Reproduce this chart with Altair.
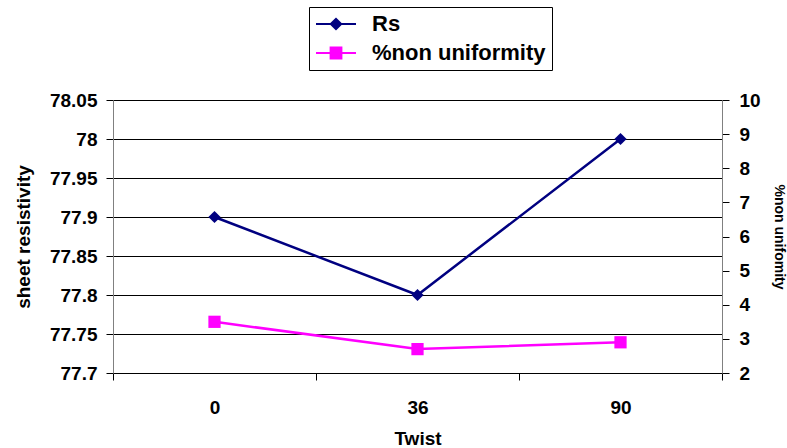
import altair as alt
import pandas as pd

twist = ["0", "36", "90"]
rs = [77.9, 77.8, 78.0]
nonuni = [3.5, 2.7, 2.9]
series = ["Rs", "%non uniformity"]
left_ticks = [77.7, 77.75, 77.8, 77.85, 77.9, 77.95, 78.0, 78.05]
right_ticks = [2, 3, 4, 5, 6, 7, 8, 9, 10]

FONT = "Liberation Sans"
NAVY = "#000080"
MAGENTA = "#FF00FF"

df = pd.DataFrame({
    "twist": twist,
    "pos": [i + 0.5 for i in range(len(twist))],
    "rs": rs,
    "nonuni": nonuni,
})
leg_df = pd.DataFrame({"series": series})

label_arr = "[" + ",".join("'" + t + "'" for t in twist) + "]"
x_axis = alt.Axis(
    values=[i * 0.5 for i in range(2 * len(twist) + 1)],
    labelExpr="datum.value % 1 === 0 ? '' : " + label_arr + "[floor(datum.value)]",
    tickOpacity={"condition": {"test": "datum.value % 1 === 0", "value": 1}, "value": 0},
    grid=False, tickSize=7, tickColor="black", domainColor="black",
    labelFont=FONT, labelFontSize=19, labelFontWeight="bold", labelColor="black",
    labelPadding=18, labelFlush=False, labelOverlap=False,
    title="Twist", titleFont=FONT, titleFontSize=19, titleFontWeight="bold",
    titleColor="black", titlePadding=12,
)
x = alt.X("pos:Q", scale=alt.Scale(domain=[0, len(twist)], nice=False, zero=False), axis=x_axis)

left_axis = alt.Axis(
    values=left_ticks, format="~f", grid=True, gridColor="black", gridWidth=1,
    tickSize=7, tickColor="black", domainColor="#808080",
    labelFont=FONT, labelFontSize=19, labelFontWeight="bold", labelColor="black",
    labelPadding=9,
    title="sheet resistivity", titleFont=FONT, titleFontSize=19, titleFontWeight="bold",
    titleColor="black", titlePadding=16,
)
right_axis = alt.Axis(
    values=right_ticks, orient="right", grid=False,
    tickSize=7, tickColor="black", domainColor="#808080",
    labelFont=FONT, labelFontSize=19, labelFontWeight="bold", labelColor="black",
    labelPadding=10,
    title="%non unifomity", titleFont=FONT, titleFontSize=14, titleFontWeight="bold",
    titleColor="black", titlePadding=11,
)

base = alt.Chart(df)
y_left = alt.Y("rs:Q", scale=alt.Scale(domain=[77.7, 78.05], nice=False, zero=False), axis=left_axis)
y_right = alt.Y("nonuni:Q", scale=alt.Scale(domain=[2, 10], nice=False, zero=False), axis=right_axis)

rs_layer = alt.layer(
    base.mark_line(color=NAVY, strokeWidth=2.5).encode(x=x, y=y_left),
    base.mark_point(shape="diamond", filled=True, color=NAVY, size=150, opacity=1).encode(x=x, y=y_left),
)
nu_layer = alt.layer(
    base.mark_line(color=MAGENTA, strokeWidth=2.5).encode(x=x, y=y_right),
    base.mark_point(shape="square", filled=True, color=MAGENTA, size=150, opacity=1).encode(x=x, y=y_right),
)

diamond_path = "M-2,0L2,0M-0.52,0L0,-0.52L0.52,0L0,0.52Z"
square_path = "M-2,0L2,0M-0.54,-0.54L0.54,-0.54L0.54,0.54L-0.54,0.54Z"
leg = alt.Legend(
    title=None, orient="none", legendX=196, legendY=-93,
    strokeColor="black", fillColor="white", padding=6,
    symbolSize=400, symbolStrokeWidth=2, symbolOpacity=1, symbolOffset=10,
    labelFont=FONT, labelFontSize=22, labelFontWeight="bold", labelColor="black",
    labelOffset=25, rowPadding=7, labelLimit=0,
)
legend_layer = alt.Chart(leg_df).mark_point(filled=True, opacity=0).encode(
    fill=alt.Fill("series:N", sort=series, scale=alt.Scale(domain=series, range=[NAVY, MAGENTA]), legend=leg),
    stroke=alt.Stroke("series:N", sort=series, scale=alt.Scale(domain=series, range=[NAVY, MAGENTA]), legend=leg),
    shape=alt.Shape("series:N", sort=series, scale=alt.Scale(domain=series, range=[diamond_path, square_path]), legend=leg),
)

chart = alt.layer(rs_layer, nu_layer, legend_layer).resolve_scale(y="independent").properties(
    width=609, height=273,
    autosize=alt.AutoSizeParams(type="none"),
    padding={"left": 113, "top": 100, "right": 65, "bottom": 75},
    background="white",
).configure_view(stroke=None)

chart.save("out.html", embed_options={"renderer": "svg", "actions": False})
